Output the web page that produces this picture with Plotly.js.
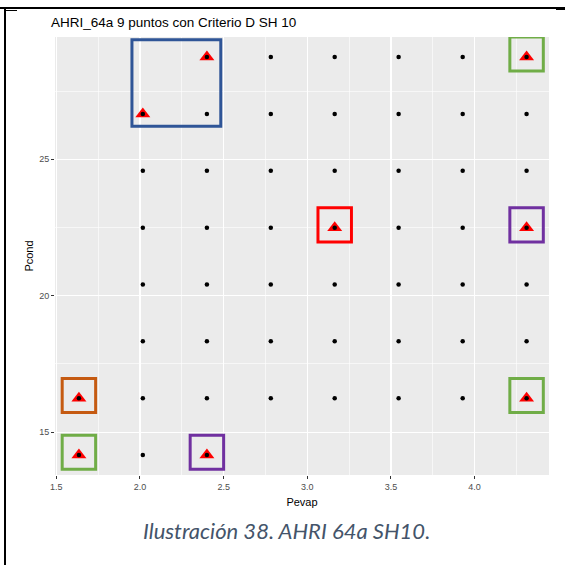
<!DOCTYPE html>
<html>
<head>
<meta charset="utf-8">
<script src="https://cdn.plot.ly/plotly-3.0.1.min.js"></script>
<style>
  html, body { margin: 0; padding: 0; background: #ffffff; }
  #wrap { position: relative; width: 565px; height: 565px; overflow: hidden; }
  #chart { position: absolute; left: 0; top: 0; width: 565px; height: 565px; }
  .ln { position: absolute; background: #000; }
</style>
</head>
<body>
<div id="wrap">
  <div id="chart"></div>
  <div class="ln" style="left:0px; top:7px; width:565px; height:1.5px;"></div>
  <div class="ln" style="left:4px; top:7px; width:2px; height:558px;"></div>
  <div class="ln" style="left:5px; top:10px; width:12px; height:1px;"></div>
  <div class="ln" style="left:556px; top:7px; width:9px; height:3px;"></div>
</div>
<script>
// ---- data ----
const pevapLevels = [1.635, 2.017, 2.400, 2.782, 3.164, 3.546, 3.929, 4.311];
const pcondLevels = [14.16, 16.24, 18.33, 20.41, 22.49, 24.58, 26.66, 28.75];

// all grid points (Pevap, Pcond) present in the chart, by index
const gridPevapIdx = [
  2,3,4,5,6,7,
  1,2,3,4,5,6,7,
  1,2,3,4,5,6,7,
  1,2,3,4,5,6,7,
  1,2,3,4,5,6,7,
  1,2,3,4,5,6,7,
  0,1,2,3,4,5,6,7,
  0,1,2
];
const gridPcondIdx = [
  7,7,7,7,7,7,
  6,6,6,6,6,6,6,
  5,5,5,5,5,5,5,
  4,4,4,4,4,4,4,
  3,3,3,3,3,3,3,
  2,2,2,2,2,2,2,
  1,1,1,1,1,1,1,1,
  0,0,0
];

// the 9 selected points (triangles)
const selPevapIdx = [2, 7, 1, 4, 7, 0, 7, 0, 2];
const selPcondIdx = [7, 7, 6, 4, 4, 1, 1, 0, 0];

// highlight boxes: which selected points each encloses, and colour
const boxMembers = [[0, 2], [1], [3], [4], [5], [6], [7], [8]];
const boxColors  = ['#2F5597', '#70AD47', '#FF0000', '#7030A0', '#C55A11', '#70AD47', '#70AD47', '#7030A0'];

const titleText = 'AHRI_64a 9 puntos con Criterio D SH 10';
const xTitle = 'Pevap';
const yTitle = 'Pcond';
const captionText = 'Ilustración 38. AHRI 64a SH10.';

// ---- build ----
const gx = gridPevapIdx.map(i => pevapLevels[i]);
const gy = gridPcondIdx.map(i => pcondLevels[i]);
const sx = selPevapIdx.map(i => pevapLevels[i]);
const sy = selPcondIdx.map(i => pcondLevels[i]);

const traces = [
  { type: 'scatter', mode: 'markers', x: sx, y: sy, hoverinfo: 'skip',
    marker: { symbol: 'triangle-up', size: 13, color: '#FF0000', line: { width: 0 } } },
  { type: 'scatter', mode: 'markers', x: gx, y: gy, hoverinfo: 'skip',
    marker: { symbol: 'circle', size: 4.5, color: '#000000', line: { width: 0 } } }
];

// box padding (style, in data units)
const padSingle = { l: 0.10, r: 0.10, t: 0.73, b: 0.52 };
const padGroup  = { l: 0.065, r: 0.083, t: 0.63, b: 0.45 };

const shapes = boxMembers.map((m, k) => {
  const xs = m.map(i => sx[i]), ys = m.map(i => sy[i]);
  const p = m.length > 1 ? padGroup : padSingle;
  return {
    type: 'rect', xref: 'x', yref: 'y', layer: 'above',
    x0: Math.min(...xs) - p.l, x1: Math.max(...xs) + p.r,
    y0: Math.min(...ys) - p.b, y1: Math.max(...ys) + p.t,
    line: { color: boxColors[k], width: 3 }, fillcolor: 'rgba(0,0,0,0)'
  };
});

const axisCommon = {
  showline: false, zeroline: false,
  gridcolor: '#FFFFFF', gridwidth: 1.2,
  ticks: 'outside', ticklen: 3, tickwidth: 1, tickcolor: '#333333',
  tickfont: { family: 'Liberation Sans, Arial, sans-serif', size: 9, color: '#4D4D4D' },
  automargin: false
};

const layout = {
  width: 565, height: 565,
  margin: { l: 55, r: 16, t: 37, b: 90 },
  paper_bgcolor: 'rgba(0,0,0,0)',
  plot_bgcolor: '#EBEBEB',
  showlegend: false,
  title: {
    text: titleText, xref: 'container', yref: 'container',
    x: 51 / 565, xanchor: 'left', y: 1 - 22 / 565, yanchor: 'middle',
    font: { family: 'Liberation Sans, Arial, sans-serif', size: 13.5, color: '#000000' }
  },
  xaxis: Object.assign({}, axisCommon, {
    range: [1.492, 4.445], tickmode: 'linear', tick0: 1.5, dtick: 0.5, tickformat: '.1f',
    minor: { tick0: 1.75, dtick: 0.5, showgrid: true, gridcolor: '#FFFFFF', gridwidth: 0.6, ticks: '' },
    title: { text: xTitle, standoff: 7, font: { family: 'Liberation Sans, Arial, sans-serif', size: 11, color: '#000000' } }
  }),
  yaxis: Object.assign({}, axisCommon, {
    range: [13.43, 29.48], tickmode: 'linear', tick0: 15, dtick: 5,
    minor: { tick0: 17.5, dtick: 5, showgrid: true, gridcolor: '#FFFFFF', gridwidth: 0.6, ticks: '' },
    title: { text: yTitle, standoff: 3, font: { family: 'Liberation Sans, Arial, sans-serif', size: 11, color: '#000000' } }
  }),
  shapes: shapes,
  annotations: [{
    text: '<i>' + captionText + '</i>', xref: 'paper', yref: 'paper',
    x: (286.5 - 55) / 494, y: (475 - 530) / 438, xanchor: 'center', yanchor: 'middle',
    showarrow: false,
    font: { family: 'Lato, Open Sans, sans-serif', size: 22, color: '#44546A' }
  }]
};

Plotly.newPlot('chart', traces, layout, { staticPlot: true, displayModeBar: false });
</script>
</body>
</html>
